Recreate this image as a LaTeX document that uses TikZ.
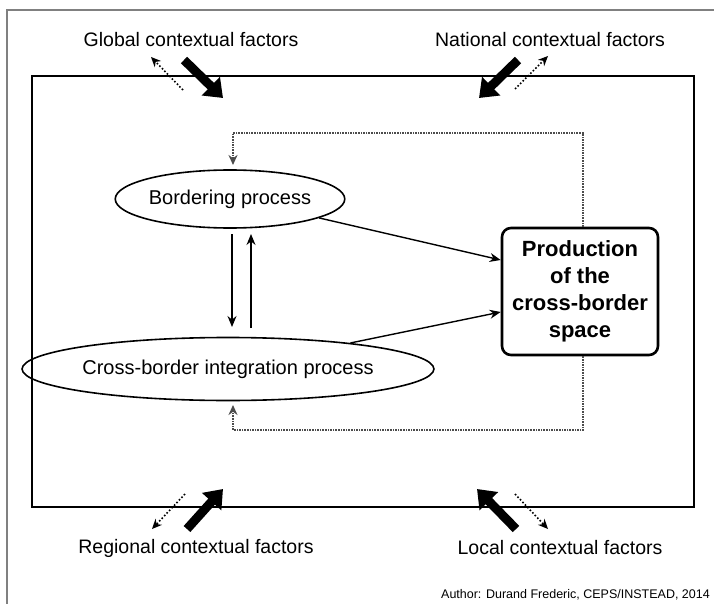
\documentclass[tikz,border=0pt]{standalone}
\usepackage{fontspec}
\setmainfont{Liberation Sans}
\usetikzlibrary{arrows.meta,shapes.geometric}
\tikzset{
  lbl/.style={inner sep=0pt, font=\fontsize{19.5}{23}\selectfont},
  procell/.style={draw, ellipse, line width=1.6pt, inner sep=0pt, font=\fontsize{20}{23}\selectfont},
  prodbox/.style={draw, rounded corners=9pt, line width=2.6pt, align=center, inner sep=0pt,
     font=\fontsize{22}{27}\selectfont\bfseries},
  bigarrow/.style={line width=9pt, -{Triangle[length=17pt,width=25pt]}},
  dotarrow/.style={line width=1.6pt, dotted, -{Stealth[length=10pt,width=9pt,line width=0pt]}},
  feedback/.style={line width=1.6pt, densely dotted, gray!60!black, -{Stealth[length=10pt,width=9pt]}},
  thinarrow/.style={line width=1.4pt, -{Stealth[length=11pt,width=9pt]}}
}
\begin{document}
\begin{tikzpicture}[x=1pt,y=-1pt]
\useasboundingbox (0,0) rectangle (714,604);
% outer image frame
\draw[gray, line width=1.4pt] (7,604) -- (7,10) -- (714,10);
% inner rectangle
\draw[line width=2pt] (32,76) rectangle (694,507);

% labels
\node[lbl] (glob) at (191,40) {Global contextual factors};
\node[lbl] (nat) at (550,40) {National contextual factors};
\node[lbl] (reg) at (196,548) {Regional contextual factors};
\node[lbl] (loc) at (560,548) {Local contextual factors};
\node[inner sep=0pt, anchor=east, font=\fontsize{12.5}{14}\selectfont] (auth) at (710,595) {Author: Durand Frederic, CEPS/INSTEAD, 2014};

% factor arrows
\coordinate (g1) at (184,60); \coordinate (g2) at (223,98);
\coordinate (g3) at (183,90); \coordinate (g4) at (151,57);
\draw[bigarrow] (g1) -- (g2);
\draw[dotarrow] (g3) -- (g4);
\coordinate (n1) at (518,60); \coordinate (n2) at (479,98);
\coordinate (n3) at (515,89); \coordinate (n4) at (548,56);
\draw[bigarrow] (n1) -- (n2);
\draw[dotarrow] (n3) -- (n4);
\coordinate (r1) at (187,529); \coordinate (r2) at (223,489);
\coordinate (r3) at (185,494); \coordinate (r4) at (152,529);
\draw[bigarrow] (r1) -- (r2);
\draw[dotarrow] (r3) -- (r4);
\coordinate (l1) at (516,529); \coordinate (l2) at (477,489);
\coordinate (l3) at (515,494); \coordinate (l4) at (548,529);
\draw[bigarrow] (l1) -- (l2);
\draw[dotarrow] (l3) -- (l4);

% process nodes
\node[procell, minimum width=212pt, minimum height=58pt] (bord) at (230,199) {Bordering process};
\node[procell, minimum width=320pt, minimum height=63pt] (cbi) at (228,369) {Cross-border integration process};
\node[prodbox, minimum width=156pt, minimum height=127pt] (prod) at (580,291.5) {Production\\of the\\cross-border\\space};

% arrows between processes
\coordinate (d1) at (232,234); \coordinate (d2) at (232,327);
\coordinate (u1) at (251,328); \coordinate (u2) at (251,234);
\draw[thinarrow] (d1) -- (d2);
\draw[thinarrow] (u1) -- (u2);
\draw[thinarrow] (bord.-12) -- (prod.west |- 0,260);
\draw[thinarrow] (cbi.12) -- (prod.west |- 0,312);

% feedback loops
\draw[feedback] (prod.north -| 583,0) -- (583,133) -- (233,133) -- (233,165);
\draw[feedback] (prod.south -| 583,0) -- (583,430) -- (233,430) -- (233,405);
\end{tikzpicture}
\end{document}
